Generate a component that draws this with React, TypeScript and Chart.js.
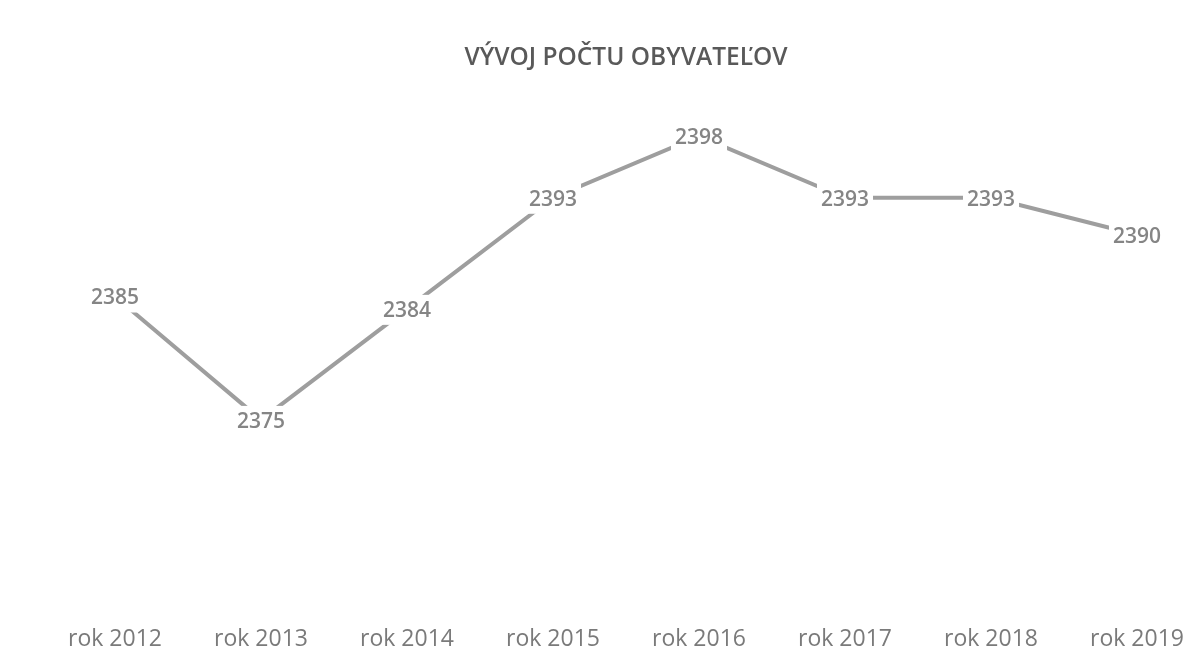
import React, { useEffect, useRef } from "react";
import { Chart, registerables } from "chart.js";

Chart.register(...registerables);

const titleText = "VÝVOJ POČTU OBYVATEĽOV";
const categories = ["rok 2012", "rok 2013", "rok 2014", "rok 2015", "rok 2016", "rok 2017", "rok 2018", "rok 2019"];
const population = [2385, 2375, 2384, 2393, 2398, 2393, 2393, 2390];

const labelPlugin = {
  id: "pointLabels",
  afterDatasetsDraw(chart: any) {
    const ctx = chart.ctx;
    const meta = chart.getDatasetMeta(0);
    ctx.save();
    ctx.font = "600 21px 'Open Sans'";
    ctx.textAlign = "center";
    ctx.textBaseline = "middle";
    meta.data.forEach((pt: any, i: number) => {
      const text = String(population[i]);
      const w = ctx.measureText(text).width;
      ctx.fillStyle = "#ffffff";
      ctx.fillRect(pt.x - w / 2 - 4, pt.y - 14, w + 8, 30);
      ctx.fillStyle = "#858585";
      ctx.fillText(text, pt.x, pt.y + 2);
    });
    ctx.restore();
  },
};

export default function App() {
  const ref = useRef<HTMLCanvasElement>(null);
  useEffect(() => {
    document.body.style.margin = "0";
    const chart = new Chart(ref.current!, {
      type: "line",
      data: {
        labels: categories,
        datasets: [
          {
            data: population,
            borderColor: "#9e9e9e",
            borderWidth: 4,
            pointRadius: 0,
            tension: 0,
          },
        ],
      },
      options: {
        animation: false,
        responsive: false,
        maintainAspectRatio: false,
        layout: { padding: { left: 115, right: 51, top: 0, bottom: 0 } },
        plugins: {
          legend: { display: false },
          tooltip: { enabled: false },
          title: {
            display: true,
            text: titleText,
            color: "#595959",
            font: { family: "'Open Sans'", size: 24.5, weight: "600" as any },
            padding: { top: 43, bottom: 39 },
          },
        },
        scales: {
          x: {
            offset: false,
            grid: { display: false, drawTicks: false },
            border: { display: false },
            afterFit(scale: any) {
              scale.height = 47;
              scale.paddingLeft = 0;
              scale.paddingRight = 0;
            },
            ticks: {
              color: "#7a7a7a",
              font: { family: "'Open Sans'", size: 23 },
              padding: 21,
              maxRotation: 0,
              autoSkip: false,
            },
          },
          y: {
            display: false,
            min: 2360,
            max: 2400,
          },
        },
      },
      plugins: [labelPlugin],
    });
    return () => chart.destroy();
  }, []);
  return (
    <div style={{ width: 1188, height: 652, background: "#ffffff" }}>
      <canvas ref={ref} width={1188} height={652} style={{ display: "block" }} />
    </div>
  );
}
